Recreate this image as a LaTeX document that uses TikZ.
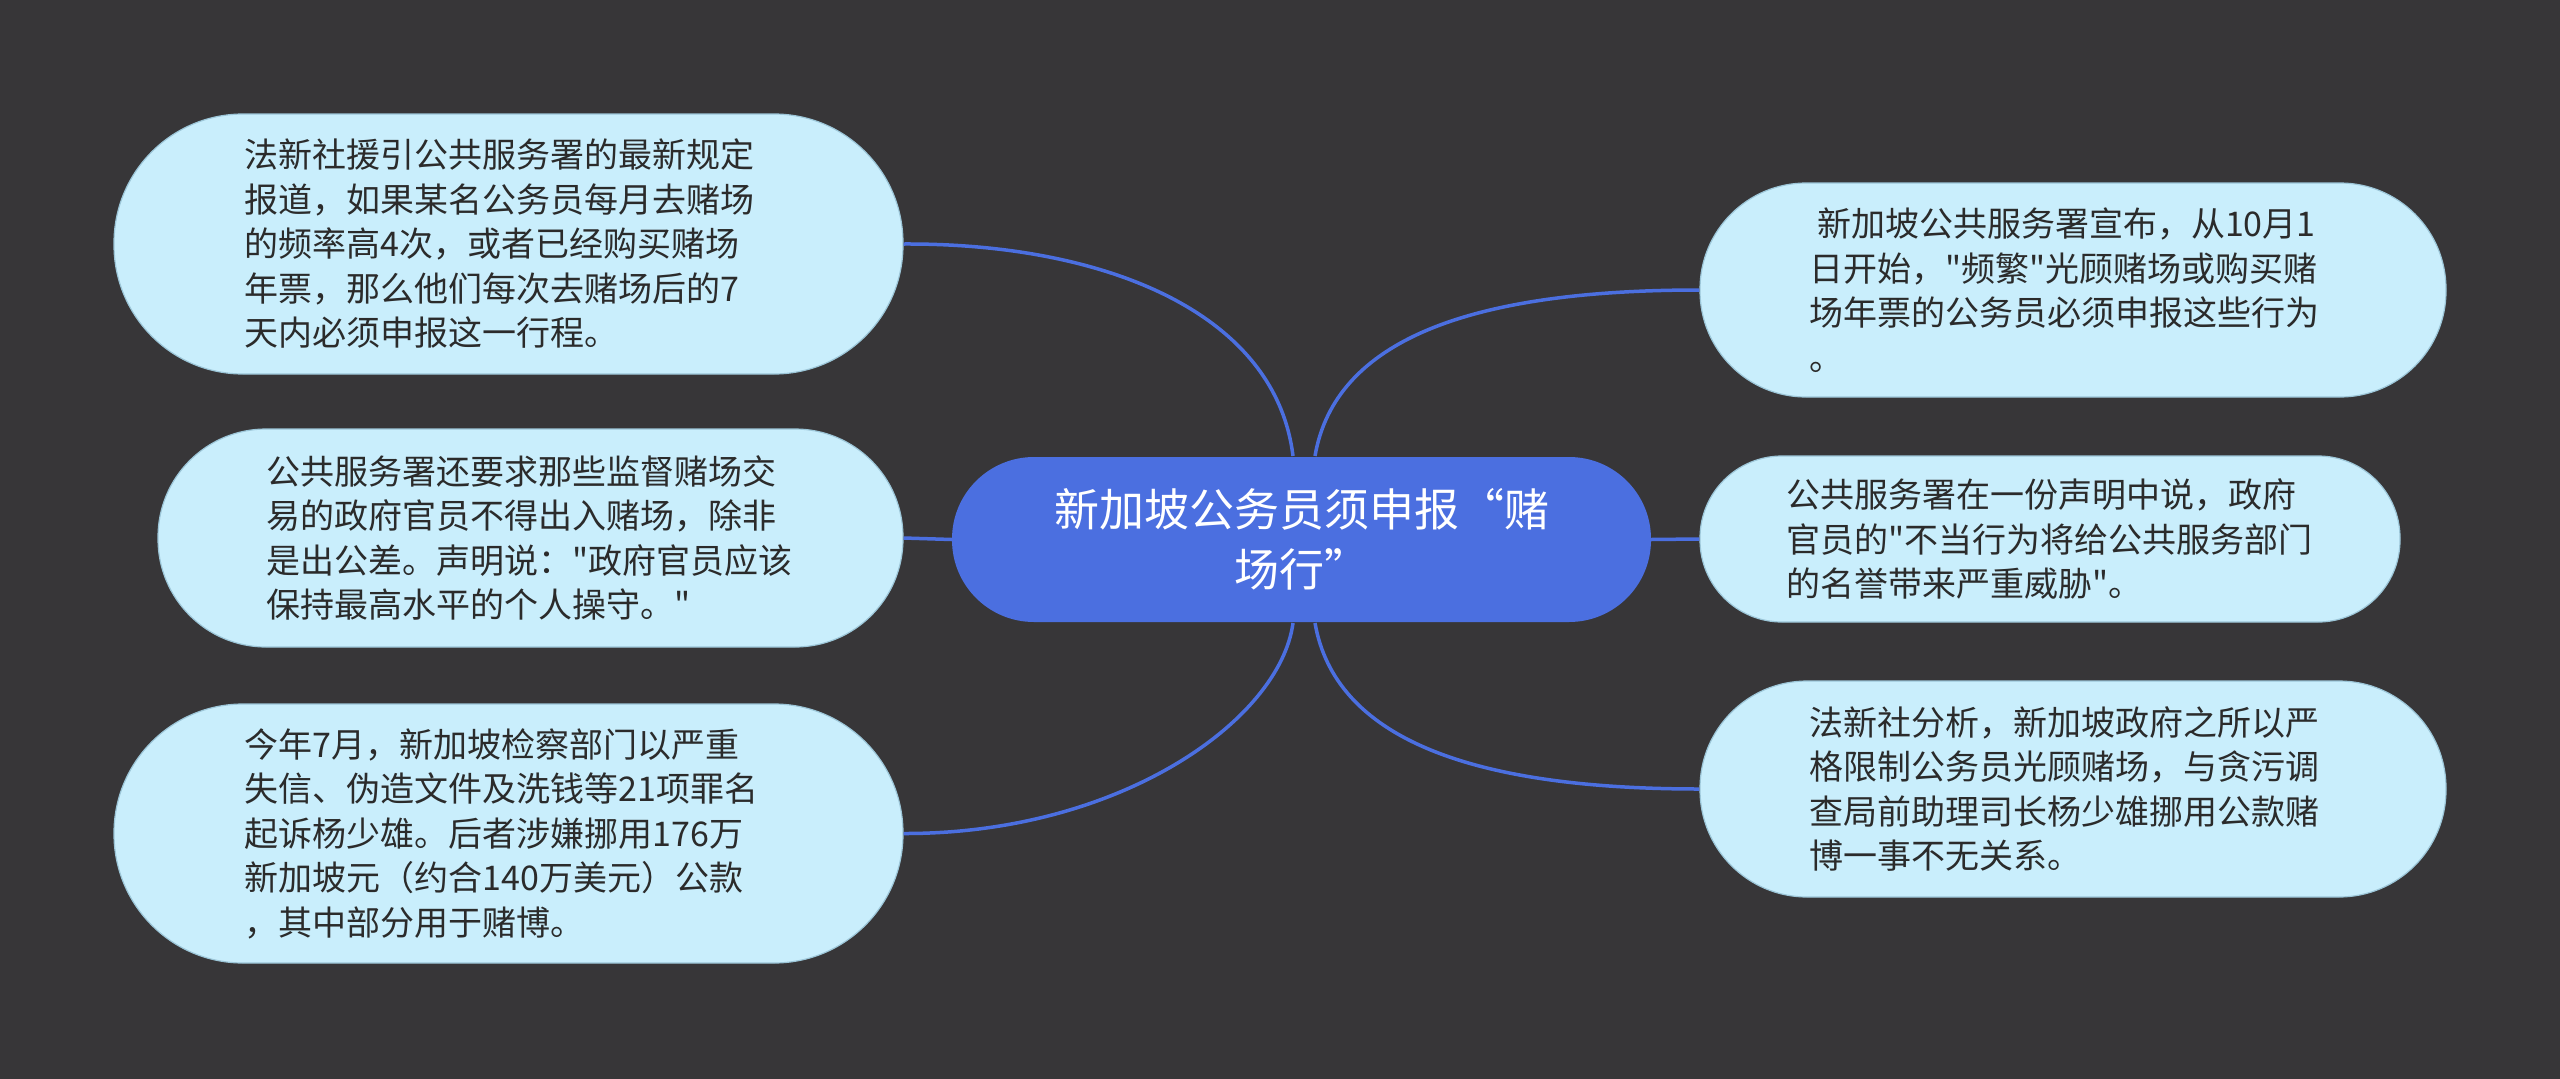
\documentclass[tikz,border=0pt]{standalone}
\usepackage{fontspec}
\setmainfont{Noto Sans CJK SC}[Ligatures=TeXOff]
\newcommand\sq{\symbol{34}}
\definecolor{bgc}{HTML}{373638}
\definecolor{boxfill}{HTML}{C9EEFC}
\definecolor{boxline}{HTML}{9CC6D8}
\definecolor{mainblue}{HTML}{4B6FE0}
\definecolor{txt}{HTML}{2B2B2B}
\tikzset{
  leaf/.style={draw=boxline, line width=1.2pt, fill=boxfill, text=txt, inner sep=0pt,
    align=left, text width=528pt, font=\fontsize{34}{44.5}\selectfont},
  hub/.style={fill=mainblue, text=white, inner sep=0pt, align=center, text width=540pt,
    minimum width=699pt, minimum height=165pt, rounded corners=82pt,
    font=\fontsize{45}{60}\selectfont},
  link/.style={draw=mainblue, line width=3.5pt}
}
\begin{document}
\begin{tikzpicture}[x=1pt,y=-1pt]
\useasboundingbox (0,0) rectangle (2560,1079);
\fill[bgc] (0,0) rectangle (2560,1079);

\node[hub] (c) at (1301.5,539.5) {新加坡公务员须申报“赌\\场行”};

\node[leaf, minimum width=789pt, minimum height=260pt, rounded corners=129pt] (l1) at (508.5,244)
{法新社援引公共服务署的最新规定\\报道，如果某名公务员每月去赌场\\的频率高4次，或者已经购买赌场\\年票，那么他们每次去赌场后的7\\天内必须申报这一行程。};

\node[leaf, minimum width=745pt, minimum height=218pt, rounded corners=108pt] (l2) at (530.5,538)
{公共服务署还要求那些监督赌场交\\易的政府官员不得出入赌场，除非\\是出公差。声明说：\sq 政府官员应该\\保持最高水平的个人操守。\sq};

\node[leaf, minimum width=789pt, minimum height=259pt, rounded corners=129pt] (l3) at (508.5,833.5)
{今年7月，新加坡检察部门以严重\\失信、伪造文件及洗钱等21项罪名\\起诉杨少雄。后者涉嫌挪用176万\\新加坡元（约合140万美元）公款\\，其中部分用于赌博。};

\node[leaf, minimum width=746pt, minimum height=214pt, rounded corners=106pt] (r1) at (2073,290)
{\hspace*{8pt}新加坡公共服务署宣布，从10月1\\日开始，\sq 频繁\sq 光顾赌场或购买赌\\场年票的公务员必须申报这些行为\\。};

\node[leaf, minimum width=700pt, minimum height=166pt, rounded corners=82pt] (r2) at (2050,539)
{公共服务署在一份声明中说，政府\\官员的\sq 不当行为将给公共服务部门\\的名誉带来严重威胁\sq。};

\node[leaf, minimum width=746pt, minimum height=216pt, rounded corners=107pt] (r3) at (2073,789)
{法新社分析，新加坡政府之所以严\\格限制公务员光顾赌场，与贪污调\\查局前助理司长杨少雄挪用公款赌\\博一事不无关系。};

\coordinate (ct1) at (1293,456);
\coordinate (ct2) at (1315,456);
\coordinate (cb1) at (1293,623);
\coordinate (cb2) at (1315,623);

\draw[link] (ct1) .. controls (1275,310) and (1100,243) .. (l1.east);
\draw[link] (ct2) .. controls (1335,340) and (1470,290) .. (r1.west);
\draw[link] (cb1) .. controls (1280,720) and (1120,834) .. (l3.east);
\draw[link] (cb2) .. controls (1335,738) and (1470,789) .. (r3.west);
\draw[link] (l2.east) -- (c.west);
\draw[link] (c.east) -- (r2.west);
\end{tikzpicture}
\end{document}
